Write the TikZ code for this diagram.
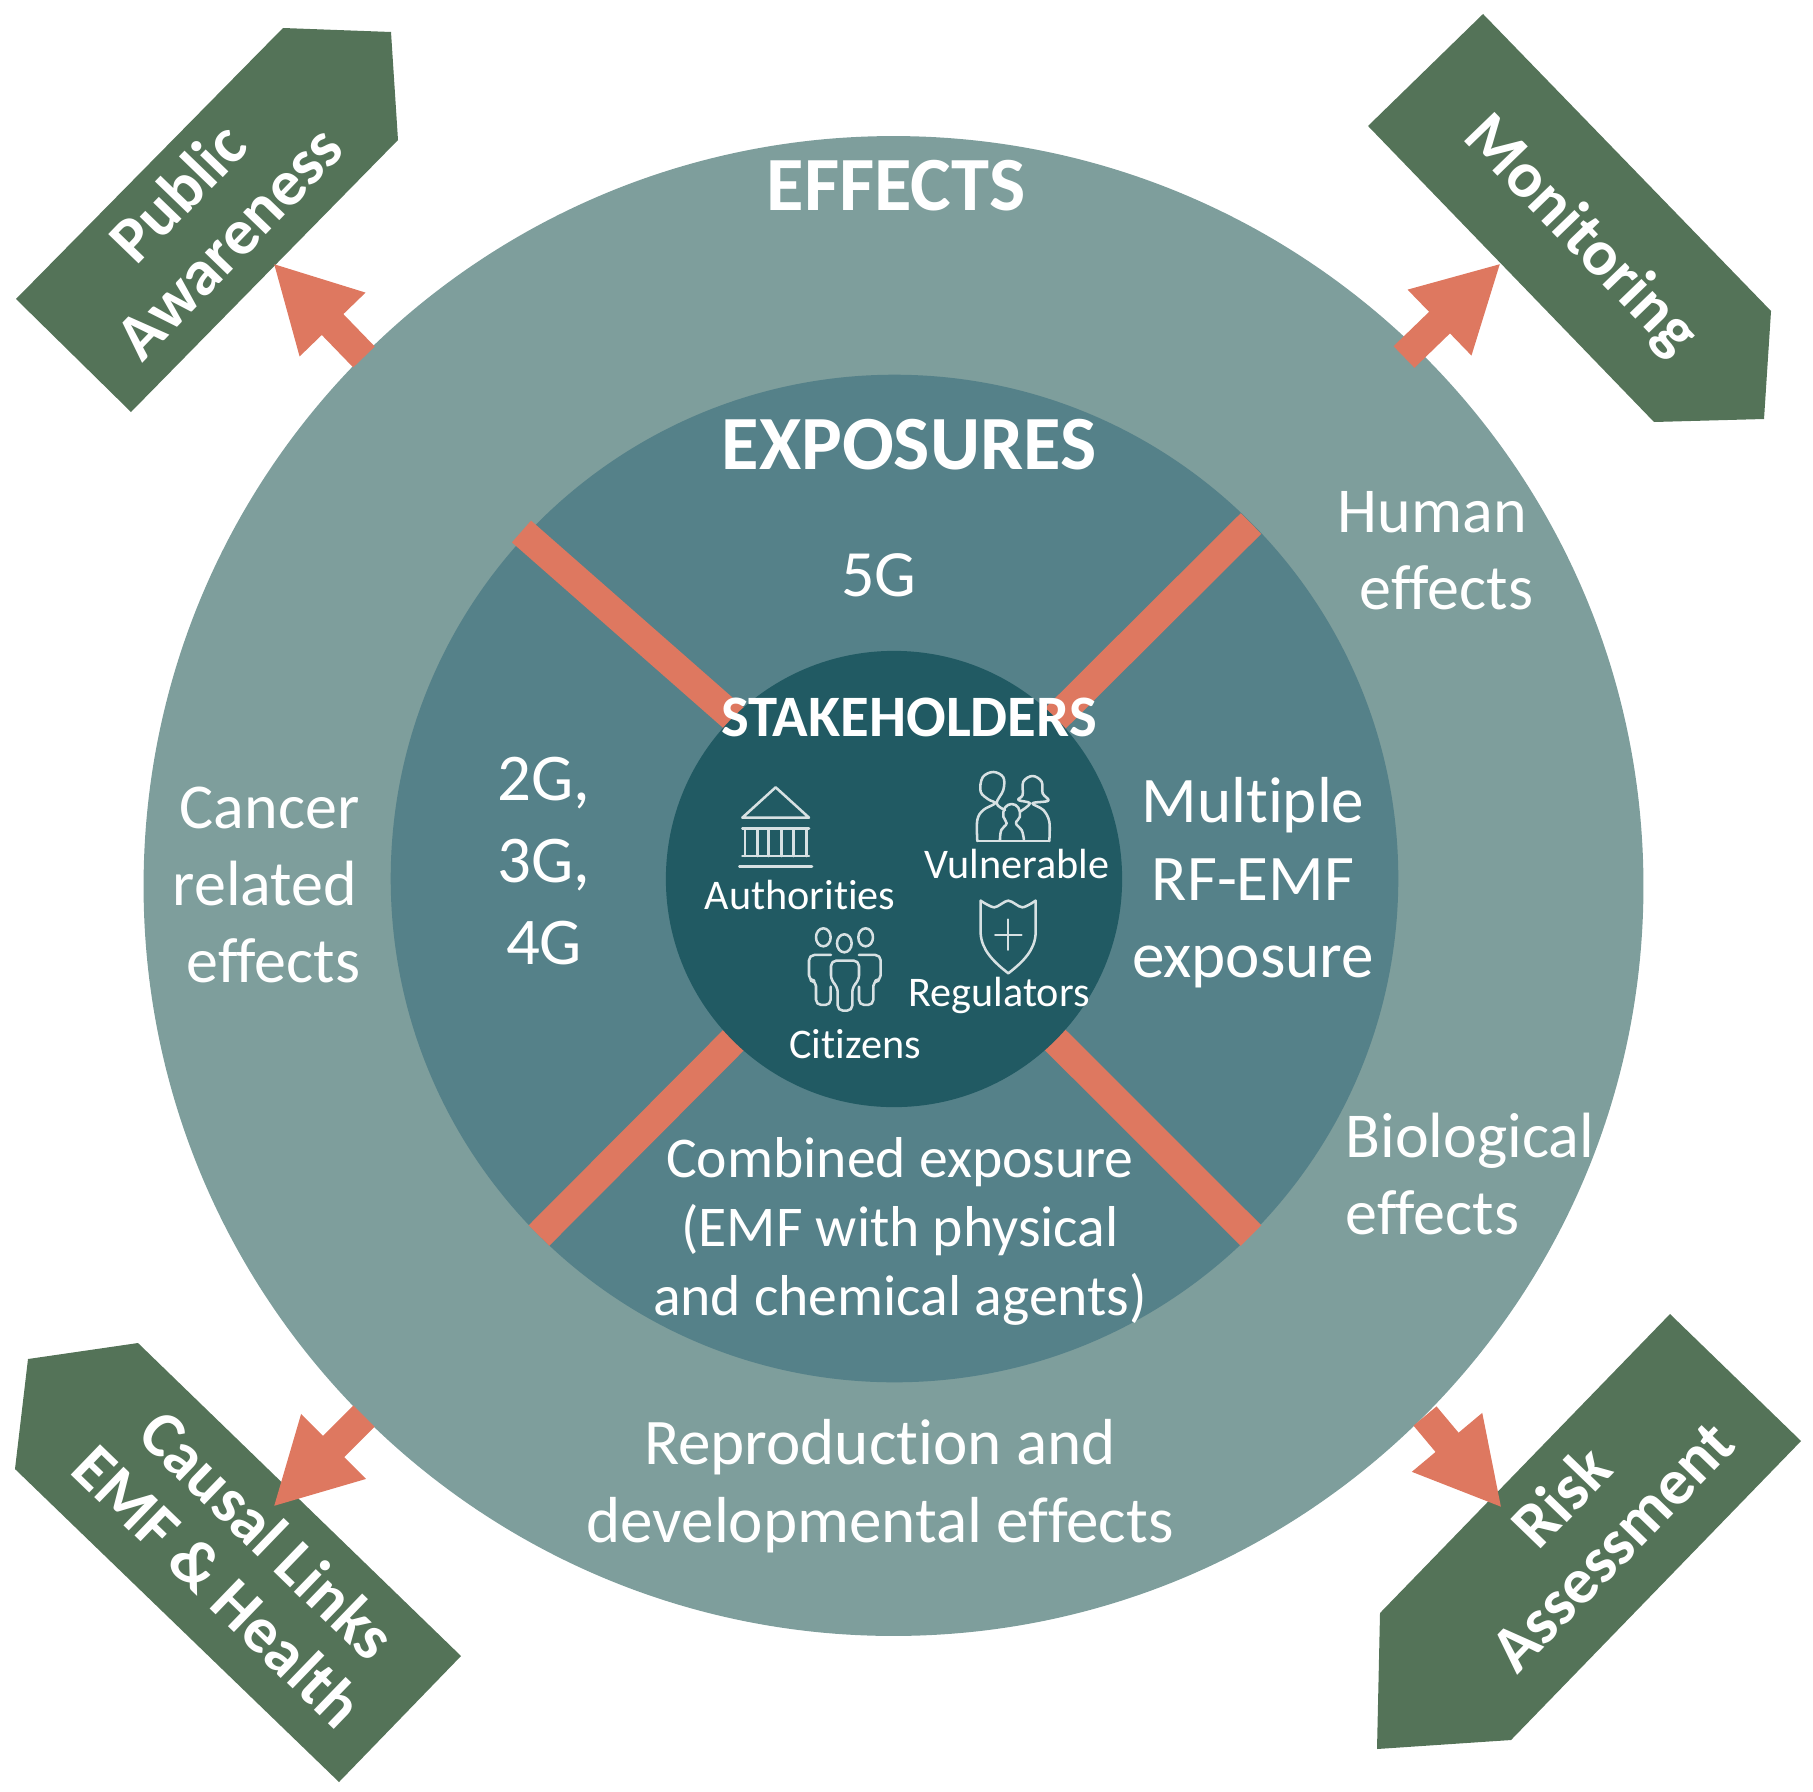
\documentclass[tikz,border=0pt]{standalone}
\usepackage{fontspec}
\setmainfont{Carlito}[Ligatures={NoCommon}]
\usetikzlibrary{arrows.meta,positioning}

\definecolor{ringouter}{HTML}{7E9E9C}
\definecolor{ringmid}{HTML}{558189}
\definecolor{ringinner}{HTML}{215A63}
\definecolor{barorange}{HTML}{DE7860}
\definecolor{bannergreen}{HTML}{547358}

\begin{document}
\begin{tikzpicture}[
    x=0.01cm, y=-0.01cm,
    ring/.style={circle, inner sep=0pt, outer sep=0pt},
    bar/.style={barorange, line width=0.29cm},
    arrow/.style={barorange, line width=0.3cm, -{Triangle[length=0.856cm,width=0.85cm]}},
    banner/.style={fill=bannergreen},
    headlbl/.style={text=white, font=\fontsize{21.8}{26}\selectfont\bfseries, inner sep=0pt},
    stakelbl/.style={text=white, font=\fontsize{16.7}{20}\selectfont\bfseries, inner sep=0pt},
    lbl/.style={text=white, align=left, inner sep=0pt, font=\fontsize{18.2}{22}\selectfont},
    midlbl/.style={text=white, align=center, inner sep=0pt, font=\fontsize{16.4}{19.6}\selectfont},
    smalllbl/.style={text=white, inner sep=0pt, font=\fontsize{12}{14}\selectfont},
    bannerlbl/.style={text=white, align=center, inner sep=0pt, font=\fontsize{18.5}{20.2}\selectfont\bfseries},
    iconline/.style={white!82!ringinner, line width=0.72pt, line join=round, line cap=round}
  ]
    \useasboundingbox (0,0) rectangle (1813,1791);

    % rings
    \node[ring, fill=ringouter, minimum size=14.99cm] (effects) at (893.5,886) {};
    \node[ring, fill=ringmid, minimum size=10.07cm] (exposures) at (894.5,878.5) {};

    % banners
    \fill[banner] (283,28) -- (391,32) -- (398,140) -- (131,412) -- (16,299) -- cycle;
    \fill[banner] (1483,14) -- (1771,311) -- (1764,419) -- (1654,422) -- (1368,126) -- cycle;
    \fill[banner] (138,1343) -- (28,1359) -- (15,1469) -- (339,1782) -- (461,1656) -- cycle;
    \fill[banner] (1670,1314) -- (1801,1441) -- (1511,1740) -- (1377,1749) -- (1380,1613) -- cycle;

    % cross bars
    \coordinate (ctr) at (894,879);
    \coordinate (tlend) at (521.5,531.5);
    \coordinate (tlin) at (760,741);
    \coordinate (trend) at (1251,523.5);
    \coordinate (blend) at (539,1235.5);
    \coordinate (brend) at (1251,1235.5);
    \draw[bar] (tlend) -- (tlin);
    \foreach \a in {trend,blend,brend}
      \draw[bar] (\a) -- (ctr);
    \node[ring, fill=ringinner, minimum size=4.56cm] (stake) at (ctr) {};

    % block arrows
    \coordinate (publicfoot) at (364,357);
    \coordinate (publictip) at (273,263);
    \coordinate (monfoot) at (1404,357);
    \coordinate (montip) at (1501,263);
    \coordinate (causalfoot) at (364,1416);
    \coordinate (causaltip) at (273,1507);
    \coordinate (riskfoot) at (1425,1416);
    \coordinate (risktip) at (1502,1508);
    \foreach \a/\b in {publicfoot/publictip,monfoot/montip,causalfoot/causaltip,riskfoot/risktip}
      \draw[arrow] (\a) -- (\b);

    % ring labels
    \node[headlbl] (efflbl) at (896,186) {EFFECTS};
    \node[headlbl] (explbl) at (909,445) {EXPOSURES};
    \node[stakelbl] (stakelabel) at (909,717) {STAKEHOLDERS};
    \node[lbl, font=\fontsize{18.8}{22}\selectfont] (fiveg) at (879,575) {5G};
    \node[lbl, align=center, font=\fontsize{19}{22}\selectfont] (oldg) at (544,861) {2G,\\[1.2pt]3G,\\[1.2pt]4G};
    \node[lbl, align=center, font=\fontsize{18.5}{22}\selectfont] (multiple) at (1253,883) {Multiple\\RF-EMF\\exposure};
    \node[midlbl] (combined) at (900,1231) {Combined exposure\\(EMF with physical\\and chemical agents)};
    \node[lbl, anchor=west] (human) at (1337,551) {Human\\\hspace*{0.22cm}effects};
    \node[lbl, anchor=west, font=\fontsize{18.2}{22}\selectfont] (bio) at (1345,1174) {Biological\\effects};
    \node[lbl, anchor=west] (cancer) at (172,885) {\hspace*{0.07cm}Cancer\\related\\\hspace*{0.14cm}effects};
    \node[lbl, align=center, font=\fontsize{18.5}{22}\selectfont] (repro) at (880,1486) {Reproduction and\\developmental effects};

    % banner labels
    \node[bannerlbl, rotate=46] (public) at (203,217) {Public\\Awareness};
    \node[bannerlbl, rotate=-46] (monitoring) at (1580,236) {Monitoring};
    \node[bannerlbl, rotate=-44] (causal) at (243,1560) {Causal Links\\EMF \& Health};
    \node[bannerlbl, rotate=46] (risk) at (1586,1521) {Risk\\Assessment};

    % stakeholder labels
    \node[smalllbl] (authorities) at (800,895) {Authorities};
    \node[smalllbl] (vulnerable) at (1017,864) {Vulnerable};
    \node[smalllbl] (regulators) at (999,995) {Regulators};
    \node[smalllbl] (citizens) at (855,1044) {Citizens};

    % icons
    \begin{scope}[shift={(660,640)}, scale=0.3333]
      % authorities
      \draw[iconline] (247,533) -- (347,442) -- (447,533) -- cycle;
      \draw[iconline] (247,565) -- (447,565) (247,648) -- (447,648);
      \draw[iconline] (238,680) -- (456,680);
      \foreach \x in {255,292,325,365,400,440}
        \draw[iconline] (\x,565) -- (\x,648);
      % vulnerable
      \draw[iconline] (952,603) -- (1168,603);
      \draw[iconline] plot[smooth, tension=0.6] coordinates {(952,603) (952,540) (970,510) (1005,490) (985,478) (962,455) (968,412) (1000,396) (1030,412) (1030,450) (1010,490) (1035,510)};
      \draw[iconline] plot[smooth, tension=0.6] coordinates {(1168,603) (1168,545) (1150,510) (1118,490) (1165,482) (1148,460) (1145,425) (1118,408) (1090,425) (1088,465) (1075,480) (1110,490) (1080,515)};
      \draw[iconline] plot[smooth, tension=0.7] coordinates {(1020,600) (1024,570) (1040,550) (1030,530) (1035,503) (1055,492) (1075,503) (1080,530) (1068,550) (1085,570) (1092,600)};
      % regulators
      \draw[iconline] plot[smooth, tension=0.5] coordinates {(1127,782) (1087,802) (1045,782) (1003,802) (962,782)};
      \draw[iconline] (962,782) -- (962,880) .. controls (965,930) and (1000,965) .. (1045,1000) .. controls (1090,965) and (1125,930) .. (1127,880) -- (1127,782);
      \draw[iconline, line width=0.5pt] (1005,884) -- (1085,884) (1045,838) -- (1045,930);
      % citizens
      \foreach \x/\y in {490/892,553/910,617/892}
        \draw[iconline] (\x,\y) ellipse [x radius=22, y radius=27];
      \draw[iconline, rounded corners=1.5pt] (513,945) -- (447,945) -- (447,1022) -- (468,1022) -- (468,1095) -- (512,1095) -- (512,1040);
      \draw[iconline, rounded corners=1.5pt] (597,945) -- (662,945) -- (662,1022) -- (640,1022) -- (640,1095) -- (597,1095) -- (597,1040);
      \draw[iconline, rounded corners=1.5pt] (513,1022) -- (513,962) -- (597,962) -- (597,1022) -- (577,1040) -- (577,1112) -- (533,1112) -- (533,1040) -- cycle;
    \end{scope}
  \end{tikzpicture}
\end{document}
